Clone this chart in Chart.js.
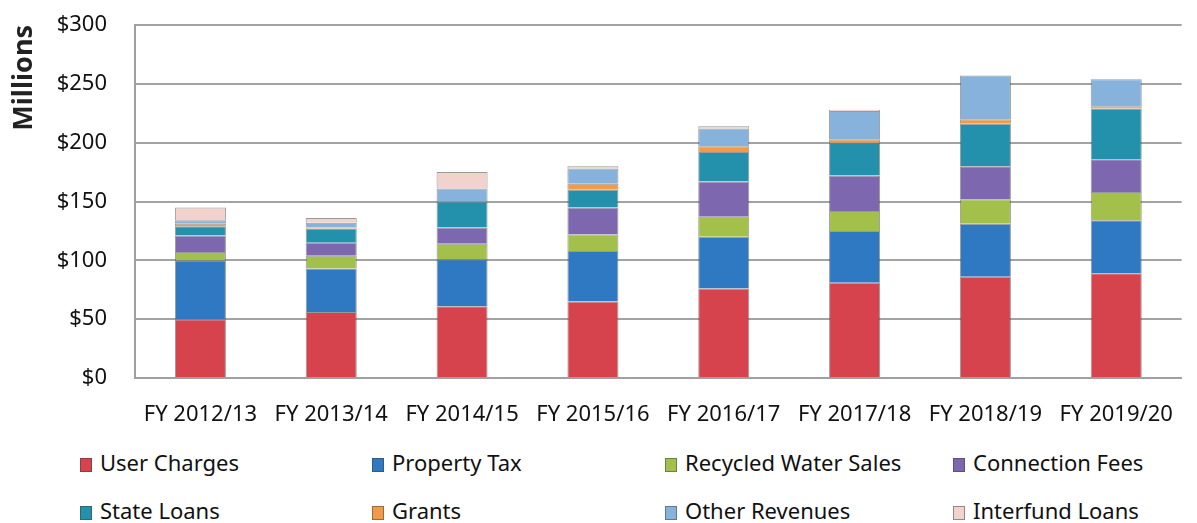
<!DOCTYPE html>
<html>
<head>
<meta charset="utf-8">
<script src="https://cdn.jsdelivr.net/npm/chart.js@4"></script>
<style>
    body { margin: 0; background: #fff; }
    #wrap { position: relative; width: 1197px; height: 523px; font-family: "Noto Sans", sans-serif; }
    #grafico { position: absolute; left: 0; top: 0; }
    .leyenda { position: absolute; font-size: 22px; color: #111; white-space: nowrap; line-height: 26px; }
    .leyenda i { display: inline-block; width: 12px; height: 14px; margin-right: 8px; vertical-align: -1px; border: 1px solid rgba(60,60,60,0.5); box-sizing: border-box; }
</style>
</head>
<body>
<div id="wrap">
    <canvas id="grafico" width="1197" height="440"></canvas>
    <div id="leyendas"></div>
</div>
<script>
const anios = ['FY 2012/13', 'FY 2013/14', 'FY 2014/15', 'FY 2015/16', 'FY 2016/17', 'FY 2017/18', 'FY 2018/19', 'FY 2019/20'];

const userCharges = [50, 56, 61, 65, 76, 81, 86, 89];
const propertyTax = [50, 37, 40, 43, 44, 44, 45, 45];
const recycledWater = [7, 11, 13, 14, 17, 17, 21, 24];
const connectionFees = [14, 11, 14, 23, 30, 30, 28, 28];
const stateLoans = [8, 12, 22, 15, 25, 28, 36, 43];
const grants = [2, 1, 0, 5, 5, 3, 4, 2];
const otherRevenues = [3, 4, 11, 13, 15, 24, 37, 23];
const interfundLoans = [11, 4, 14, 2, 2, 1, 0, 0];

const ticksY = [0, 50, 100, 150, 200, 250, 300];

const series = [
    { label: 'User Charges', data: userCharges, color: '#d6434c' },
    { label: 'Property Tax', data: propertyTax, color: '#2f78c2' },
    { label: 'Recycled Water Sales', data: recycledWater, color: '#a2c04a' },
    { label: 'Connection Fees', data: connectionFees, color: '#7d68b0' },
    { label: 'State Loans', data: stateLoans, color: '#2391ac' },
    { label: 'Grants', data: grants, color: '#f29a45' },
    { label: 'Other Revenues', data: otherRevenues, color: '#86b2dc' },
    { label: 'Interfund Loans', data: interfundLoans, color: '#f1d2cc' }
];

// posiciones de la leyenda (2 filas x 4 columnas)
const colsLeyenda = [80, 372, 665, 953];
const filasLeyenda = [449, 497];

const ctx = document.getElementById('grafico').getContext('2d');
const chart = new Chart(ctx, {
    type: 'bar',
    data: {
        labels: anios,
        datasets: series.map(s => ({
            label: s.label,
            data: s.data,
            backgroundColor: s.color,
            borderColor: 'rgba(70, 70, 70, 0.55)',
            borderWidth: 1,
            barPercentage: 0.39,
            categoryPercentage: 1
        }))
    },
    options: {
        responsive: false,
        animation: false,
        layout: { padding: { top: 25, right: 2, left: 0, bottom: 0 } },
        plugins: {
            legend: { display: false },
            tooltip: { enabled: false }
        },
        scales: {
            x: {
                stacked: true,
                grid: { display: false, drawTicks: false },
                border: { color: '#a0a0a0', width: 2 },
                ticks: {
                    color: '#111',
                    padding: 24,
                    maxRotation: 0,
                    font: { family: 'Noto Sans', size: 22 }
                },
                afterFit: function (scale) { scale.height = 62; }
            },
            y: {
                stacked: true,
                min: 0,
                max: 300,
                afterBuildTicks: function (scale) {
                    scale.ticks = ticksY.map(v => ({ value: v }));
                },
                grid: { color: '#a3a3a3', lineWidth: 2, drawTicks: false },
                border: { color: '#a0a0a0', width: 2 },
                ticks: {
                    color: '#111',
                    padding: 28,
                    font: { family: 'Noto Sans', size: 22 },
                    callback: v => '$' + v
                },
                title: {
                    display: true,
                    text: 'Millions',
                    align: 'end',
                    color: '#222',
                    padding: { top: 8, bottom: 0 },
                    font: { family: 'Noto Sans', size: 27, weight: 'bold' }
                },
                afterFit: function (scale) {
                    scale.width = 135;
                    // el padding de ticks no debe empujar el area hacia abajo
                    scale.paddingTop = 14;
                    scale.paddingBottom = 14;
                }
            }
        }
    }
});

// leyenda armada a mano para respetar las columnas
const cont = document.getElementById('leyendas');
series.forEach((s, i) => {
    const item = document.createElement('div');
    item.className = 'leyenda';
    item.style.left = colsLeyenda[i % 4] + 'px';
    item.style.top = filasLeyenda[Math.floor(i / 4)] + 'px';
    item.innerHTML = `<i style="background:${s.color}"></i>${s.label}`;
    cont.appendChild(item);
});
</script>
</body>
</html>
